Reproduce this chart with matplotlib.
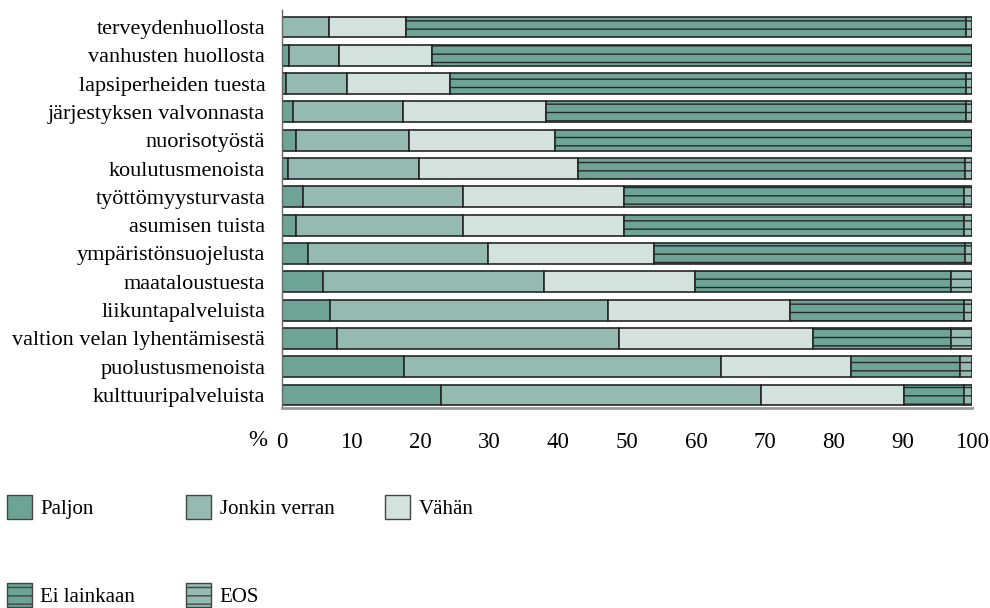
import matplotlib
matplotlib.use('Agg')
import matplotlib.pyplot as plt
from matplotlib.patches import Patch
import numpy as np

plt.rcParams['font.family'] = ['Liberation Serif', 'DejaVu Serif']
plt.rcParams['hatch.linewidth'] = 1.0

# kohteet ylhäältä alas
kohteet = ['terveydenhuollosta', 'vanhusten huollosta', 'lapsiperheiden tuesta',
           'järjestyksen valvonnasta', 'nuorisotyöstä', 'koulutusmenoista',
           'työttömyysturvasta', 'asumisen tuista', 'ympäristönsuojelusta',
           'maataloustuesta', 'liikuntapalveluista', 'valtion velan lyhentämisestä',
           'puolustusmenoista', 'kulttuuripalveluista']

# osuudet % (luettu kuvasta)
paljon = [0.0, 1.0, 0.6, 1.6, 2.1, 0.8, 3.0, 2.0, 3.8, 5.9, 7.0, 7.9, 17.7, 23.1]
jonkin = [6.8, 7.3, 8.8, 15.9, 16.3, 19.0, 23.3, 24.3, 26.1, 32.0, 40.3, 41.0, 45.9, 46.3]
vahan = [11.1, 13.4, 14.9, 20.8, 21.2, 23.1, 23.2, 23.2, 24.0, 22.0, 26.3, 28.1, 18.8, 20.8]
ei_lainkaan = [81.2, 78.3, 74.9, 60.9, 60.4, 56.1, 49.3, 49.3, 45.1, 37.1, 25.2, 20.0, 15.8, 8.6]
eos = [0.9, 0.0, 0.8, 0.8, 0.0, 1.0, 1.2, 1.2, 1.0, 3.0, 1.2, 3.0, 1.8, 1.2]

nimet = ['Paljon', 'Jonkin verran', 'Vähän', 'Ei lainkaan', 'EOS']
sarjat = [paljon, jonkin, vahan, ei_lainkaan, eos]
varit = ['#6ea496', '#95bbb0', '#d4e2de', '#6ea496', '#95bbb0']
kuviot = [None, None, None, '--', '--']

fig = plt.figure(figsize=(9.9, 6.08), dpi=100)
ax = fig.add_axes([282/990, 200/608, (972-282)/990, 398/608])

y = np.arange(len(kohteet))
vasen = np.zeros(len(kohteet))
for arvot, vari, kuvio in zip(sarjat, varit, kuviot):
    ax.barh(y, arvot, left=vasen, height=0.74, color=vari, edgecolor='#262626',
            linewidth=1.2, hatch=kuvio)
    vasen += np.array(arvot)

ax.set_xlim(0, 100)
ax.set_ylim(13.46, -0.6)
ax.set_yticks(y)
ax.set_yticklabels(kohteet)
ax.set_xticks(np.arange(0, 101, 10))
ax.tick_params(axis='both', length=0)
ax.tick_params(axis='y', pad=12, labelsize=16)
ax.tick_params(axis='x', pad=17, labelsize=16.5)
for s in ['top', 'right']:
    ax.spines[s].set_visible(False)
ax.spines['left'].set_color('#666666')
ax.spines['left'].set_linewidth(1.0)
ax.spines['bottom'].set_color('#999999')
ax.spines['bottom'].set_linewidth(2.0)

fig.text(258/990, 1 - 440/608, '%', ha='center', va='center', fontsize=16.5)

kahvat = []
for i in [0, 3, 1, 4, 2]:
    kahvat.append(Patch(facecolor=varit[i], edgecolor='#444444', linewidth=1.0,
                        hatch=kuviot[i], label=nimet[i]))
fig.legend(handles=kahvat, loc='upper left', bbox_to_anchor=(7/990, 1 - 495/608),
           ncol=3, frameon=False, fontsize=15, borderpad=0, borderaxespad=0,
           handlelength=1.2, handleheight=1.4, handletextpad=0.4,
           labelspacing=3.05, columnspacing=2.45)

fig.savefig('out.png', dpi=100)
